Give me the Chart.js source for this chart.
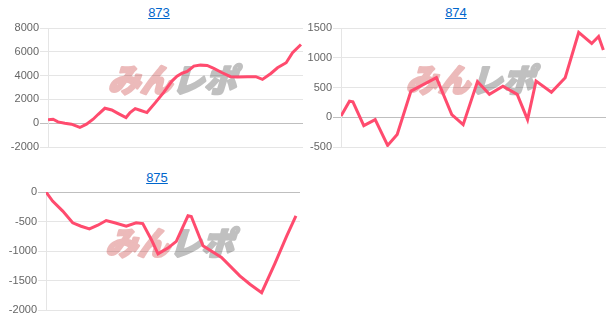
<!DOCTYPE html>
<html>
<head>
<meta charset="utf-8">
<script src="https://cdn.jsdelivr.net/npm/chart.js@4.4.1/dist/chart.umd.min.js"></script>
<style>
  body { margin: 0; background: #fff; width: 612px; height: 335px; position: relative; overflow: hidden; }
  .title { position: absolute; width: 100px; text-align: center; font: 13px/15px "Liberation Sans", Arial, sans-serif; }
  .title a { color: #0066cc; text-decoration: underline; }
  canvas { position: absolute; }
</style>
</head>
<body>
<div class="title" style="left:109px; top:5px"><a href="#">873</a></div>
<div class="title" style="left:406px; top:5px"><a href="#">874</a></div>
<div class="title" style="left:107px; top:170px"><a href="#">875</a></div>
<canvas id="c873" width="306" height="135" style="left:0; top:20px"></canvas>
<canvas id="c874" width="306" height="135" style="left:306px; top:20px"></canvas>
<canvas id="c875" width="306" height="134" style="left:0; top:184px"></canvas>
<script>
// progress through the session (0-100) and slump value at each turn of the line
const progress873 = [0, 2.0, 3.9, 6.6, 9.2, 12.5, 15.1, 17.7, 19.7, 22.3, 25.0, 27.6, 30.6, 32.2, 34.2, 36.1, 38.8, 42.1, 45.3, 48.6, 50.6, 52.6, 54.6, 57.2, 59.8, 62.4, 65.0, 68.3, 71.6, 74.3, 78.2, 81.5, 84.1, 87.4, 90.0, 93.4, 95.9, 99.2];
const slump873 = [280, 335, 110, 0, -84, -360, -84, 335, 750, 1255, 1115, 810, 475, 895, 1230, 1090, 895, 1730, 2570, 3540, 3950, 4200, 4350, 4800, 4880, 4850, 4600, 4240, 3910, 3880, 3910, 3910, 3680, 4180, 4660, 5080, 5920, 6610];

const progress874 = [0, 3.2, 4.5, 8.6, 12.9, 17.6, 21.2, 26.4, 36.0, 41.8, 46.1, 51.5, 56.0, 61.1, 66.5, 70.4, 73.6, 79.4, 84.6, 89.7, 94.6, 97.2, 99.0];
const slump874 = [20, 270, 260, -140, -40, -473, -290, 440, 665, 45, -125, 600, 385, 520, 385, -40, 610, 420, 665, 1425, 1240, 1358, 1130];

const progress875 = [0, 2.6, 6.6, 10.5, 13.8, 17.1, 20.4, 23.7, 27.0, 31.6, 35.5, 38.1, 41.5, 44.1, 48.0, 51.3, 55.9, 57.2, 61.8, 69.1, 76.3, 80.3, 84.9, 90.1, 94.7, 98.4];
const slump875 = [0, -154, -324, -522, -580, -625, -563, -483, -522, -580, -522, -535, -808, -1047, -950, -836, -404, -416, -910, -1108, -1420, -1563, -1706, -1212, -751, -404];

const yRange873 = [-2000, 8000, 2000];
const yRange874 = [-500, 1500, 500];
const yRange875 = [-2000, 0, 500];

const FONT = '"Liberation Sans", Arial, sans-serif';

// faint site logo behind the plot
const watermark = {
    id: 'watermark',
    beforeDraw(chart) {
        const { ctx, chartArea } = chart;
        const cx = (chartArea.left + chartArea.right) / 2;
        const cy = (chartArea.top + chartArea.bottom) / 2 - 8;
        ctx.save();
        ctx.font = '900 32px "Noto Sans CJK JP", sans-serif';
        ctx.textBaseline = 'middle';
        ctx.lineJoin = 'round';
        ctx.lineWidth = 2.5;
        ctx.setTransform(1, 0, -0.3, 1, cy * 0.3, 0);
        const w1 = ctx.measureText('みん').width;
        const w2 = ctx.measureText('レポ').width;
        const x0 = cx - (w1 + w2) / 2;
        ctx.fillStyle = ctx.strokeStyle = 'rgb(236, 186, 186)';
        ctx.fillText('みん', x0, cy);
        ctx.strokeText('みん', x0, cy);
        ctx.fillStyle = ctx.strokeStyle = 'rgb(192, 192, 192)';
        ctx.fillText('レポ', x0 + w1, cy);
        ctx.strokeText('レポ', x0 + w1, cy);
        ctx.restore();
    }
};

function makeChart(id, xs, ys, yRange, axisWidth, padRight) {
    new Chart(document.getElementById(id), {
        type: 'line',
        data: {
            datasets: [{
                data: xs.map((x, i) => ({ x: x, y: ys[i] })),
                borderColor: 'rgb(255, 75, 110)',
                borderWidth: 3,
                pointRadius: 0,
                fill: false,
                tension: 0
            }]
        },
        options: {
            responsive: false,
            animation: false,
            devicePixelRatio: 1,
            layout: { padding: { top: 8, bottom: 8, left: 0, right: padRight } },
            plugins: { legend: { display: false }, tooltip: { enabled: false } },
            scales: {
                x: { type: 'linear', min: 0, max: 100, display: false },
                y: {
                    min: yRange[0],
                    max: yRange[1],
                    afterFit: scale => { scale.width = axisWidth; },
                    ticks: {
                        stepSize: yRange[2],
                        padding: 1,
                        color: '#666',
                        font: { family: FONT, size: 11 },
                        callback: value => String(value)
                    },
                    grid: {
                        tickLength: 8,
                        color: c => (c.tick && c.tick.value === 0) ? 'rgba(0,0,0,0.25)' : 'rgba(0,0,0,0.1)'
                    },
                    border: { color: 'rgba(0,0,0,0.1)' }
                }
            }
        },
        plugins: [watermark]
    });
}

makeChart('c873', progress873, slump873, yRange873, 48, 3);
makeChart('c874', progress874, slump874, yRange874, 35, 6);
makeChart('c875', progress875, slump875, yRange875, 46, 6);
</script>
</body>
</html>
